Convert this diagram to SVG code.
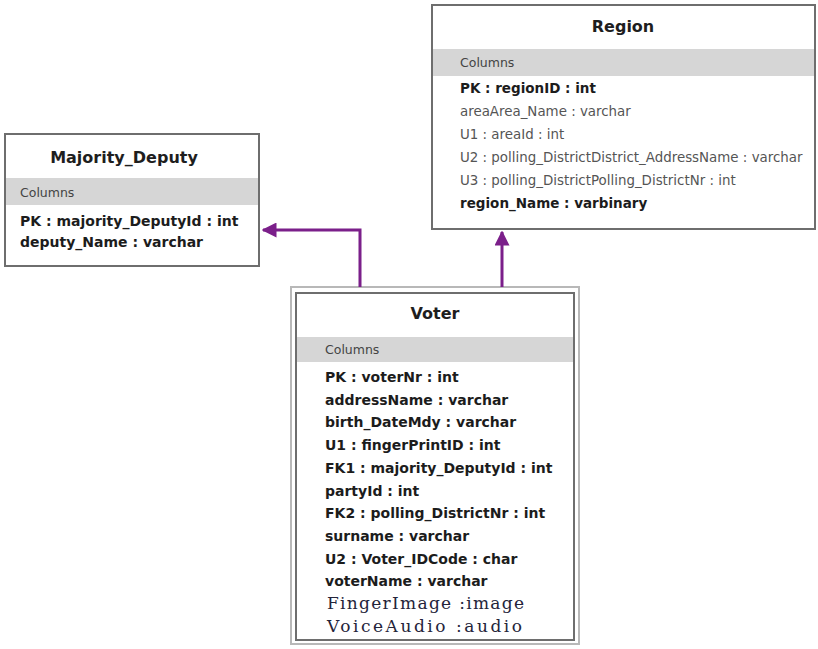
<svg xmlns="http://www.w3.org/2000/svg" width="818" height="649" viewBox="0 0 818 649">
  <defs>
    <marker id="arrow" viewBox="0 0 10 10" refX="9" refY="5" markerWidth="5" markerHeight="5" markerUnits="strokeWidth" orient="auto">
      <path d="M0,0 L10,5 L0,10 z" fill="#7b1f8a"/>
    </marker>
    <style>
      .box { fill: #ffffff; stroke: #6e6e6e; stroke-width: 2; }
      .outer { fill: #ffffff; stroke: #b8b8b8; stroke-width: 2; }
      .band { fill: #d6d6d6; }
      .title { font-family: "DejaVu Sans", "Liberation Sans", sans-serif; font-weight: bold; font-size: 16px; fill: #1e1e1e; text-anchor: middle; }
      .cols { font-family: "DejaVu Sans", "Liberation Sans", sans-serif; font-size: 12.5px; fill: #444444; }
      .key { font-family: "DejaVu Sans", "Liberation Sans", sans-serif; font-weight: bold; font-size: 14px; fill: #1c1c1c; }
      .keyr { font-family: "DejaVu Sans", "Liberation Sans", sans-serif; font-weight: bold; font-size: 13.5px; fill: #1c1c1c; }
      .attr { font-family: "DejaVu Sans", "Liberation Sans", sans-serif; font-size: 13.4px; fill: #555555; }
      .serif { font-family: "DejaVu Serif", "Liberation Serif", serif; font-size: 17px; fill: #24243a; }
      .link { fill: none; stroke: #7b1f8a; stroke-width: 3; }
    </style>
  </defs>

  <!-- Majority_Deputy table -->
  <g id="majority_deputy">
    <rect class="box" x="5" y="134" width="254" height="132"/>
    <rect class="band" x="6" y="178" width="252" height="27"/>
    <text class="title" x="124" y="163">Majority_Deputy</text>
    <text class="cols" x="20" y="197">Columns</text>
    <text class="key" x="20" y="226">PK : majority_DeputyId : int</text>
    <text class="key" x="20" y="247">deputy_Name : varchar</text>
  </g>

  <!-- Region table -->
  <g id="region">
    <rect class="box" x="432" y="5" width="383" height="224"/>
    <rect class="band" x="433" y="49" width="381" height="27"/>
    <text class="title" x="623" y="32">Region</text>
    <text class="cols" x="460" y="67">Columns</text>
    <text class="keyr" x="460" y="93">PK : regionID : int</text>
    <text class="attr" x="460" y="116">areaArea_Name : varchar</text>
    <text class="attr" x="460" y="139">U1 : areaId : int</text>
    <text class="attr" x="460" y="162">U2 : polling_DistrictDistrict_AddressName : varchar</text>
    <text class="attr" x="460" y="185">U3 : polling_DistrictPolling_DistrictNr : int</text>
    <text class="keyr" x="460" y="208">region_Name : varbinary</text>
  </g>

  <!-- Voter table -->
  <g id="voter">
    <rect class="outer" x="291" y="287" width="288" height="357"/>
    <rect class="box" x="296" y="293" width="278" height="347"/>
    <rect class="band" x="297" y="337" width="276" height="25"/>
    <text class="title" x="435" y="319">Voter</text>
    <text class="cols" x="325" y="354">Columns</text>
    <text class="key" x="325" y="382">PK : voterNr : int</text>
    <text class="key" x="325" y="404.7">addressName : varchar</text>
    <text class="key" x="325" y="427.4">birth_DateMdy : varchar</text>
    <text class="key" x="325" y="450.1">U1 : fingerPrintID : int</text>
    <text class="key" x="325" y="472.8">FK1 : majority_DeputyId : int</text>
    <text class="key" x="325" y="495.5">partyId : int</text>
    <text class="key" x="325" y="518.2">FK2 : polling_DistrictNr : int</text>
    <text class="key" x="325" y="540.9">surname : varchar</text>
    <text class="key" x="325" y="563.6">U2 : Voter_IDCode : char</text>
    <text class="key" x="325" y="586.3">voterName : varchar</text>
    <text class="serif" x="327" y="609" textLength="197" lengthAdjust="spacing">FingerImage :image</text>
    <text class="serif" x="327" y="632" textLength="195" lengthAdjust="spacing">VoiceAudio :audio</text>
  </g>

  <!-- Foreign key connectors -->
  <g id="connectors">
    <polyline class="link" points="360,287 360,230 263,230" marker-end="url(#arrow)"/>
    <line class="link" x1="502" y1="287" x2="502" y2="232" marker-end="url(#arrow)"/>
  </g>
</svg>
